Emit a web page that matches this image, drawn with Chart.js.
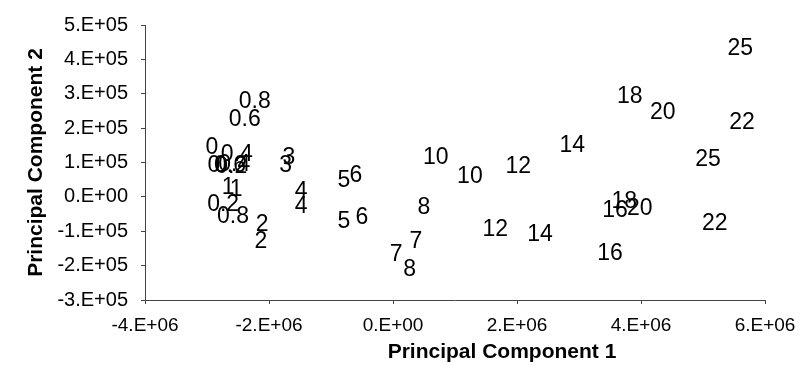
<!DOCTYPE html>
<html>
<head>
<meta charset="utf-8">
<script src="https://cdn.jsdelivr.net/npm/chart.js@4/dist/chart.umd.min.js"></script>
<style>
  html, body { margin: 0; padding: 0; background: #fff; }
  #wrap { width: 802px; height: 392px; }
</style>
</head>
<body>
<div id="wrap"><canvas id="pca-chart"></canvas></div>
<script>
// sample labels (same set for both groups)
const sampleLabels = ['0', '0.2', '0.4', '0.6', '0.8', '1', '2', '3', '4', '5', '6', '7', '8', '10', '12', '14', '16', '18', '20', '22', '25'];

// group A scores
const pc1A = [-2.92e6, -2.61e6, -2.52e6, -2.39e6, -2.23e6, -2.66e6, -2.11e6, -1.68e6, -1.48e6, -0.79e6, -0.60e6, 0.37e6, 0.50e6, 0.69e6, 2.02e6, 2.89e6, 3.58e6, 3.82e6, 4.35e6, 5.63e6, 5.60e6];
const pc2A = [1.43e5, 0.89e5, 1.23e5, 2.26e5, 2.77e5, 0.26e5, -0.80e5, 1.14e5, 0.14e5, 0.46e5, 0.63e5, -1.29e5, -0.31e5, 1.14e5, 0.89e5, 1.49e5, -0.40e5, 2.91e5, 2.46e5, 2.17e5, 4.31e5];

// group B scores
const pc1B = [-2.89e6, -2.74e6, -2.56e6, -2.63e6, -2.58e6, -2.53e6, -2.13e6, -1.73e6, -1.48e6, -0.79e6, -0.50e6, 0.05e6, 0.27e6, 1.24e6, 1.65e6, 2.37e6, 3.50e6, 3.73e6, 3.98e6, 5.19e6, 5.08e6];
const pc2B = [0.91e5, -0.23e5, 0.94e5, 0.91e5, -0.57e5, 0.20e5, -1.29e5, 0.91e5, -0.29e5, -0.71e5, -0.60e5, -1.69e5, -2.11e5, 0.60e5, -0.94e5, -1.09e5, -1.66e5, -0.14e5, -0.34e5, -0.77e5, 1.09e5];

// tick labels
const xTickLabels = ['-4.E+06', '-2.E+06', '0.E+00', '2.E+06', '4.E+06', '6.E+06'];
const yTickLabels = ['-3.E+05', '-2.E+05', '-1.E+05', '0.E+00', '1.E+05', '2.E+05', '3.E+05', '4.E+05', '5.E+05'];

function toPoints(xs, ys) {
    return xs.map(function(x, i) { return { x: x, y: ys[i] }; });
}

// draws the sample label text at each point instead of a marker
const textPoints = {
    id: 'textPoints',
    afterDatasetsDraw: function(chart) {
        const ctx = chart.ctx;
        ctx.save();
        ctx.font = '23px "Liberation Sans", Arial, sans-serif';
        ctx.fillStyle = '#000';
        ctx.textAlign = 'center';
        ctx.textBaseline = 'middle';
        chart.data.datasets.forEach(function(ds, di) {
            chart.getDatasetMeta(di).data.forEach(function(pt, i) {
                ctx.fillText(sampleLabels[i], pt.x, pt.y);
            });
        });
        ctx.restore();
    }
};

// axis titles
const axisTitles = {
    id: 'axisTitles',
    afterDraw: function(chart) {
        const ctx = chart.ctx;
        const area = chart.chartArea;
        ctx.save();
        ctx.font = 'bold 21px "Liberation Sans", Arial, sans-serif';
        ctx.fillStyle = '#000';
        ctx.textAlign = 'center';
        ctx.textBaseline = 'middle';
        ctx.fillText('Principal Component 1', (area.left + area.right) / 2 + 47, 352);
        ctx.translate(36, (area.top + area.bottom) / 2);
        ctx.rotate(-Math.PI / 2);
        ctx.fillText('Principal Component 2', 0, 0);
        ctx.restore();
    }
};

const ctx = document.getElementById('pca-chart').getContext('2d');
new Chart(ctx, {
    type: 'scatter',
    data: {
        datasets: [
            { label: 'A', data: toPoints(pc1A, pc2A), pointRadius: 0, pointHoverRadius: 0 },
            { label: 'B', data: toPoints(pc1B, pc2B), pointRadius: 0, pointHoverRadius: 0 }
        ]
    },
    options: {
        responsive: true,
        maintainAspectRatio: false,
        animation: false,
        layout: {
            padding: { left: 0, right: 37, top: 21, bottom: 0 }
        },
        scales: {
            x: {
                type: 'linear',
                min: -4e6,
                max: 6e6,
                border: { color: '#444', width: 1 },
                grid: { drawOnChartArea: false, color: '#444', tickLength: 4 },
                ticks: {
                    stepSize: 2e6,
                    padding: 10,
                    color: '#000',
                    font: { family: '"Liberation Sans", Arial, sans-serif', size: 19 },
                    callback: function(value, i) { return xTickLabels[i]; }
                },
                afterFit: function(scale) {
                    scale.height = 92;
                    scale.paddingLeft = 0;
                    scale.paddingRight = 0;
                }
            },
            y: {
                type: 'linear',
                min: -3e5,
                max: 5e5,
                border: { color: '#444', width: 1 },
                grid: { drawOnChartArea: false, color: '#444', tickLength: 4 },
                ticks: {
                    stepSize: 1e5,
                    padding: 13,
                    color: '#000',
                    font: { family: '"Liberation Sans", Arial, sans-serif', size: 20 },
                    callback: function(value, i) { return yTickLabels[i]; }
                },
                afterFit: function(scale) { scale.width = 145; }
            }
        },
        plugins: {
            legend: { display: false },
            tooltip: { enabled: false }
        }
    },
    plugins: [textPoints, axisTitles]
});
</script>
</body>
</html>
